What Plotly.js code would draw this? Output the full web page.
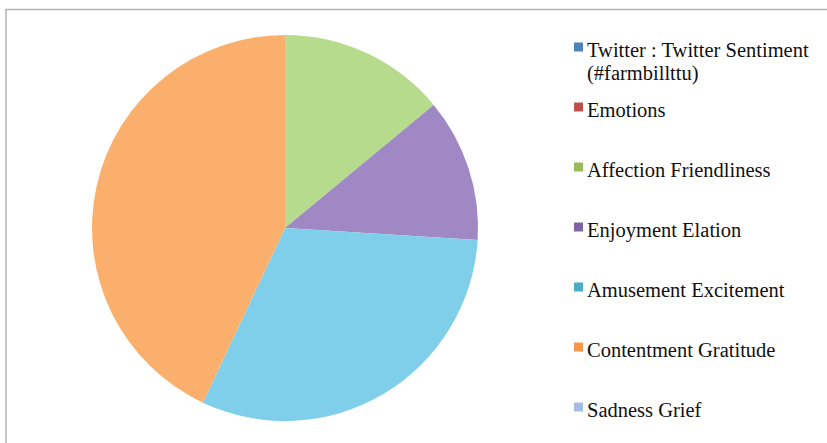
<!DOCTYPE html>
<html>
<head>
<meta charset="utf-8">
<script src="https://cdn.plot.ly/plotly-3.0.1.min.js"></script>
<style>html,body{margin:0;padding:0;background:#fff}#chart{width:827px;height:443px}</style>
</head>
<body>
<div id="chart"></div>
<script>
// ---- data ----
const categories = [
  "Twitter : Twitter Sentiment (#farmbillttu)",
  "Emotions",
  "Affection Friendliness",
  "Enjoyment Elation",
  "Amusement Excitement",
  "Contentment Gratitude",
  "Sadness Grief"
];
const legendLines = [
  ["Twitter : Twitter Sentiment", "(#farmbillttu)"],
  ["Emotions"],
  ["Affection Friendliness"],
  ["Enjoyment Elation"],
  ["Amusement Excitement"],
  ["Contentment Gratitude"],
  ["Sadness Grief"]
];
const values = [0, 0, 14, 12, 31, 43, 0];
const sliceColors = ["#4f81bd", "#c0504d", "#b7db8c", "#9f88c4", "#80cfea", "#fab06c", "#a5bde6"];
const legendColors = ["#4f81bd", "#c0504d", "#9bbb59", "#8064a2", "#4bacc6", "#f79646", "#a5bde6"];

// ---- layout helpers (pixel -> paper) ----
const W = 827, H = 443;
const px = x => x / W;
const py = y => 1 - y / H;

const cx = 285, cy = 228, r = 193;

const trace = {
  type: "pie",
  labels: categories,
  values: values,
  sort: false,
  direction: "clockwise",
  rotation: 0,
  textinfo: "none",
  hoverinfo: "label+value+percent",
  showlegend: false,
  marker: { colors: sliceColors, line: { width: 0 } },
  domain: { x: [px(cx - r), px(cx + r)], y: [py(cy + r), py(cy - r)] }
};

const shapes = [{
  type: "rect", xref: "paper", yref: "paper",
  x0: px(6), x1: px(W + 5), y0: py(H + 5), y1: py(9.5),
  line: { color: "#b3b3b3", width: 1.5 }, fillcolor: "rgba(0,0,0,0)"
}];
const annotations = [];

const rowY = [50, 110, 170, 230, 290, 350, 410];
const lineGap = 24;
const markX = 574, markS = 9, textX = 585;
legendLines.forEach((lines, i) => {
  const y = rowY[i];
  shapes.push({
    type: "rect", xref: "paper", yref: "paper",
    x0: px(markX), x1: px(markX + markS),
    y0: py(y - 3 + markS / 2), y1: py(y - 3 - markS / 2),
    line: { width: 0 }, fillcolor: legendColors[i]
  });
  lines.forEach((t, j) => {
    annotations.push({
      xref: "paper", yref: "paper",
      x: px(textX), y: py(y + j * lineGap),
      xanchor: "left", yanchor: "middle",
      text: t, showarrow: false,
      font: { family: "Liberation Serif, serif", size: 20.5, color: "#111111" }
    });
  });
});

const layout = {
  width: W, height: H,
  margin: { l: 0, r: 0, t: 0, b: 0 },
  paper_bgcolor: "#ffffff",
  showlegend: false,
  shapes: shapes,
  annotations: annotations
};

Plotly.newPlot("chart", [trace], layout, { displayModeBar: false, staticPlot: true });
</script>
</body>
</html>
